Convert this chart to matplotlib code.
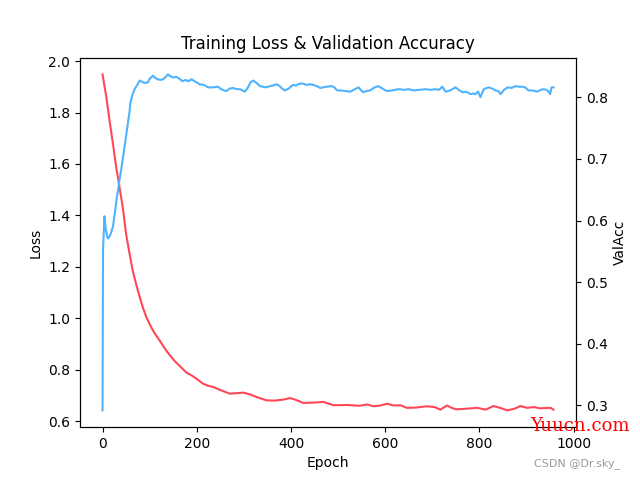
import matplotlib
matplotlib.use("Agg")
import matplotlib.pyplot as plt

# training loss
loss_epochs = [0, 8, 15, 22, 29, 36, 43, 50, 57, 64, 72, 79, 86, 93, 100, 107, 114, 121,
               128, 135, 146, 153, 160, 168, 178, 189, 200, 213, 225, 235, 250, 270, 285,
               299, 313, 330, 348, 365, 384, 398, 410, 426, 445, 469, 490, 520, 545, 561,
               575, 590, 604, 618, 632, 646, 665, 688, 705, 717, 731, 742, 752, 775, 795,
               813, 830, 845, 859, 875, 887, 901, 916, 928, 937, 951, 957]
loss_values = [1.948, 1.86, 1.767, 1.68, 1.587, 1.51, 1.431, 1.328, 1.255, 1.186, 1.128,
               1.083, 1.04, 1.005, 0.978, 0.953, 0.933, 0.915, 0.895, 0.876, 0.850, 0.835,
               0.822, 0.808, 0.790, 0.779, 0.765, 0.747, 0.738, 0.734, 0.722, 0.708, 0.710,
               0.712, 0.705, 0.693, 0.682, 0.681, 0.685, 0.691, 0.684, 0.672, 0.673, 0.676,
               0.663, 0.664, 0.661, 0.666, 0.659, 0.662, 0.669, 0.662, 0.663, 0.653, 0.654,
               0.659, 0.656, 0.646, 0.662, 0.652, 0.647, 0.650, 0.653, 0.646, 0.660, 0.652,
               0.643, 0.650, 0.660, 0.653, 0.656, 0.651, 0.652, 0.653, 0.646]

# validation accuracy
acc_epochs = [0, 1, 4, 7, 11, 15, 18, 22, 26, 28, 30, 33, 36, 40, 47, 52, 57, 59, 61, 64,
              68, 73, 79, 84, 89, 96, 100, 107, 112, 118, 123, 128, 133, 139, 144, 150, 157,
              163, 170, 176, 182, 189, 195, 200, 206, 215, 224, 235, 245, 252, 258, 263,
              270, 277, 285, 292, 297, 302, 308, 314, 320, 327, 334, 340, 348, 355, 362,
              370, 376, 381, 387, 395, 404, 410, 418, 426, 433, 440, 447, 455, 462, 468,
              475, 487, 492, 498, 505, 515, 526, 533, 543, 553, 560, 568, 575, 585, 592,
              598, 604, 615, 628, 640, 650, 660, 672, 685, 695, 706, 714, 721, 728, 738,
              749, 756, 764, 772, 781, 786, 791, 797, 802, 809, 819, 827, 834, 840, 845,
              852, 860, 868, 877, 884, 891, 897, 904, 912, 918, 923, 930, 936, 942, 947,
              950, 953, 957]
acc_values = [0.292, 0.552, 0.607, 0.585, 0.571, 0.574, 0.580, 0.590, 0.612, 0.623, 0.636,
              0.650, 0.666, 0.685, 0.721, 0.748, 0.775, 0.790, 0.797, 0.805, 0.813, 0.819,
              0.827, 0.825, 0.823, 0.824, 0.830, 0.835, 0.831, 0.829, 0.828, 0.829, 0.832,
              0.837, 0.834, 0.832, 0.833, 0.830, 0.826, 0.828, 0.826, 0.829, 0.826, 0.824,
              0.821, 0.820, 0.816, 0.816, 0.817, 0.813, 0.811, 0.810, 0.814, 0.815, 0.813,
              0.813, 0.811, 0.809, 0.815, 0.824, 0.827, 0.823, 0.818, 0.817, 0.816, 0.818,
              0.819, 0.821, 0.818, 0.814, 0.811, 0.814, 0.820, 0.819, 0.822, 0.822, 0.820,
              0.821, 0.820, 0.818, 0.815, 0.816, 0.817, 0.818, 0.816, 0.811, 0.811, 0.810,
              0.809, 0.812, 0.816, 0.808, 0.810, 0.811, 0.815, 0.818, 0.815, 0.812, 0.810,
              0.811, 0.813, 0.812, 0.813, 0.811, 0.812, 0.813, 0.812, 0.813, 0.812, 0.817,
              0.809, 0.811, 0.816, 0.812, 0.808, 0.809, 0.805, 0.806, 0.805, 0.809, 0.800,
              0.813, 0.816, 0.814, 0.811, 0.810, 0.805, 0.812, 0.816, 0.815, 0.818, 0.817,
              0.817, 0.816, 0.811, 0.811, 0.810, 0.809, 0.812, 0.813, 0.812, 0.809, 0.805,
              0.816, 0.816]

fig, ax1 = plt.subplots(figsize=(6.4, 4.8), dpi=100)
ax1.plot(loss_epochs, loss_values, color='#ff4757', linewidth=1.5)
ax1.set_xlabel('Epoch')
ax1.set_ylabel('Loss')
ax1.set_title('Training Loss & Validation Accuracy')

ax2 = ax1.twinx()
ax2.plot(acc_epochs, acc_values, color='#4db3ff', linewidth=1.5)
ax2.set_ylabel('ValAcc')

# watermarks
fig.text(0.828, 0.102, 'Yuucn.com', color='red', fontsize=13, family='DejaVu Serif')
fig.text(0.834, 0.028, 'CSDN @Dr.sky_', color='#999999', fontsize=8)

plt.savefig('out.png', dpi=100)
